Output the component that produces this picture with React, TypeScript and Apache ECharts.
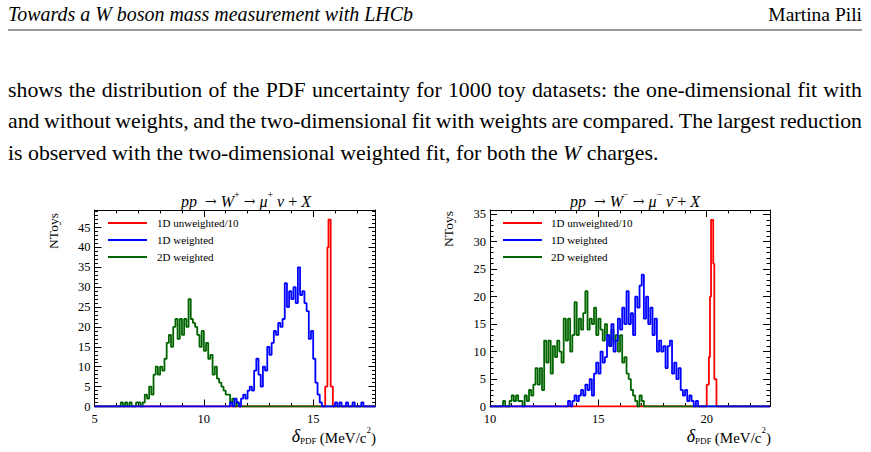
import React, { useEffect, useRef } from 'react';
import * as echarts from 'echarts';

// ---------- texts ----------
const headerLeft = 'Towards a W boson mass measurement with LHCb';
const headerRight = 'Martina Pili';
const paragraphLines = [
  'shows the distribution of the PDF uncertainty for 1000 toy datasets: the one-dimensional fit with',
  'and without weights, and the two-dimensional fit with weights are compared. The largest reduction',
  'is observed with the two-dimensional weighted fit, for both the W charges.',
];
const legendLabels = ['1D unweighted/10', '1D weighted', '2D weighted'];
const yAxisTitle = 'NToys';

// ---------- left panel (W+) ----------
const leftXRange = [5, 17.85];
const leftYMax = 49.4;
const leftRedStart = 15.55;
const leftRedWidth = 0.05;
const leftRed = [5, 5, 40, 47, 47, 5, 5];
const leftBlueStart = 11.0;
const leftBlueWidth = 0.1;
const leftBlue = [
  0, 0, 1, 0, 2, 1, 0, 2, 3, 2,
  4, 5, 4, 9, 12, 8, 5, 10, 9, 15,
  13, 16, 19, 18, 21, 20, 22, 31, 25, 29,
  27, 30, 26, 35, 28, 29, 26, 24, 17, 19,
  12, 6, 3, 1, 0, 0, 0, 0, 0, 0,
  1, 0, 1, 0, 0, 1, 0, 0, 1, 0,
  0, 0, 1, 0,
];
const leftGreenStart = 6.0;
const leftGreenWidth = 0.1;
const leftGreen = [
  0, 0, 1, 0, 1, 0, 1, 0, 0, 1,
  1, 0, 1, 3, 2, 5, 3, 8, 10, 8,
  10, 9, 12, 16, 18, 15, 20, 22, 17, 22,
  18, 22, 20, 27, 22, 21, 20, 18, 15, 19,
  14, 16, 12, 13, 8, 10, 7, 6, 5, 4,
  3, 3, 1, 2, 0, 1, 0, 0,
];

// ---------- right panel (W-) ----------
const rightXRange = [10, 22.92];
const rightYMax = 35.78;
const rightRedStart = 20.0;
const rightRedWidth = 0.05;
const rightRed = [4, 4, 9, 20, 34, 34, 26, 5, 5];
const rightBlueStart = 13.5;
const rightBlueWidth = 0.1;
const rightBlue = [
  0, 1, 0, 1, 2, 1, 2, 3, 2, 4,
  3, 5, 2, 6, 8, 6, 10, 8, 9, 13,
  11, 15, 10, 12, 16, 14, 18, 15, 21, 15,
  17, 13, 20, 18, 22, 24, 16, 20, 15, 18,
  13, 16, 10, 12, 10, 11, 7, 11, 12, 6,
  8, 5, 7, 3, 2, 3, 1, 2, 1, 0,
  1, 0,
];
const rightGreenStart = 10.5;
const rightGreenWidth = 0.1;
const rightGreen = [
  0, 1, 0, 0, 1, 2, 1, 2, 1, 1,
  0, 2, 1, 3, 2, 4, 7, 4, 7, 3,
  12, 8, 12, 6, 11, 9, 12, 10, 8, 16,
  12, 16, 10, 13, 19, 13, 16, 14, 17, 21,
  14, 16, 15, 18, 13, 16, 14, 12, 15, 13,
  11, 14, 12, 13, 10, 13, 8, 9, 6, 5,
  3, 2, 1, 0, 2, 1, 0,
];

const COLORS = { red: '#ff0000', blue: '#0000ff', green: '#006400' };
const SERIF = '"Liberation Serif", "Times New Roman", serif';

function histPoints(start: number, width: number, counts: number[], lo: number, hi: number) {
  const pts: number[][] = [[lo, 0]];
  counts.forEach((c, i) => pts.push([+(start + i * width).toFixed(4), c]));
  pts.push([+(start + counts.length * width).toFixed(4), 0]);
  pts.push([hi, 0]);
  return pts;
}

function measurer() {
  const ctx = document.createElement('canvas').getContext('2d') as CanvasRenderingContext2D;
  return (text: string, font: string) => {
    ctx.font = font;
    return ctx.measureText(text).width;
  };
}

function buildParagraph(): any[] {
  const size = 21.8;
  const left = 8;
  const right = 862;
  const ys = [90, 121, 153];
  const measure = measurer();
  const els: any[] = [];
  paragraphLines.forEach((line, li) => {
    const words = line.split(' ');
    const fonts = words.map((w) =>
      li === 2 && w === 'W' ? `italic ${size}px ${SERIF}` : `${size}px ${SERIF}`
    );
    const widths = words.map((w, i) => measure(w, fonts[i]));
    const space = measure(' ', `${size}px ${SERIF}`);
    const total = widths.reduce((a, b) => a + b, 0);
    const justify = li < paragraphLines.length - 1;
    const gap = justify ? (right - left - total) / (words.length - 1) : space;
    let x = left;
    words.forEach((w, i) => {
      els.push({
        type: 'text',
        x,
        y: ys[li],
        silent: true,
        style: { text: w, font: fonts[i], fill: '#000', verticalAlign: 'middle' },
      });
      x += widths[i] + gap;
    });
  });
  return els;
}

function axisPair(gridIndex: number, range: number[], isX: boolean) {
  const fmt = (v: number) => (Math.abs(v % 5) < 1e-6 ? String(Math.round(v)) : '');
  const common = {
    gridIndex,
    type: 'value',
    min: range[0],
    max: range[1],
    interval: 5,
    splitLine: { show: false },
    axisLine: { show: true, onZero: false, lineStyle: { color: '#000', width: 1 } },
    axisTick: { show: true, inside: true, length: 7, lineStyle: { color: '#000', width: 1 } },
    minorTick: { show: true, splitNumber: 5, length: 3.5, lineStyle: { color: '#000', width: 1 } },
  };
  const main = {
    ...common,
    position: isX ? 'bottom' : 'left',
    axisLabel: {
      show: true,
      formatter: fmt,
      color: '#000',
      fontFamily: SERIF,
      fontSize: 12.5,
      margin: isX ? 6 : 4,
      showMaxLabel: false,
    },
  };
  const mirror = {
    ...common,
    position: isX ? 'top' : 'right',
    axisLabel: { show: false },
  };
  return [main, mirror];
}

function legendGraphics(x0: number, textX: number, ys: number[]) {
  const cols = [COLORS.red, COLORS.blue, COLORS.green];
  const els: any[] = [];
  legendLabels.forEach((label, i) => {
    els.push({
      type: 'line',
      silent: true,
      shape: { x1: x0, y1: ys[i], x2: x0 + 39, y2: ys[i] },
      style: { stroke: cols[i], lineWidth: 1.8 },
    });
    els.push({
      type: 'text',
      x: textX,
      y: ys[i],
      silent: true,
      style: { text: label, font: `11px ${SERIF}`, fill: '#000', verticalAlign: 'middle' },
    });
  });
  return els;
}

const titleRich = {
  n: { fontFamily: SERIF, fontSize: 16, lineHeight: 20, verticalAlign: 'bottom' },
  a: { fontFamily: '"DejaVu Serif", serif', fontSize: 14, lineHeight: 20, verticalAlign: 'bottom', padding: [0, 0, 1, 0] },
  i: { fontFamily: SERIF, fontSize: 16, fontStyle: 'italic', lineHeight: 20, verticalAlign: 'bottom' },
  sup: { fontFamily: SERIF, fontSize: 10, lineHeight: 20, verticalAlign: 'top' },
};

const xTitleRich = {
  d: { fontFamily: SERIF, fontSize: 18, fontStyle: 'italic', lineHeight: 20, verticalAlign: 'bottom' },
  sub: { fontFamily: SERIF, fontSize: 9, lineHeight: 20, verticalAlign: 'bottom' },
  n: { fontFamily: SERIF, fontSize: 15, lineHeight: 20, verticalAlign: 'bottom' },
  sup: { fontFamily: SERIF, fontSize: 9, lineHeight: 20, verticalAlign: 'top' },
};

function lineSeries(name: string, color: string, xi: number, yi: number, data: number[][]) {
  return {
    name,
    type: 'line',
    step: 'end',
    xAxisIndex: xi,
    yAxisIndex: yi,
    data,
    showSymbol: false,
    symbol: 'none',
    silent: true,
    lineStyle: { color, width: 1.8 },
    itemStyle: { color },
  };
}

export default function App() {
  const ref = useRef<HTMLDivElement>(null);
  useEffect(() => {
    if (!ref.current) return;
    const chart = echarts.init(ref.current, undefined, { renderer: 'svg' });
    const measure = measurer();

    const headerFont = `italic 20px ${SERIF}`;
    const headerScale = 405 / measure(headerLeft, headerFont);

    const [lx0, lx1] = axisPair(0, leftXRange, true);
    const [ly0, ly1] = axisPair(0, [0, leftYMax], false);
    const [rx0, rx1] = axisPair(1, rightXRange, true);
    const [ry0, ry1] = axisPair(1, [0, rightYMax], false);

    const xTitle = '{d|δ}{sub|PDF} {n|(MeV/c}{sup|2}{n|)}';

    const graphics: any[] = [
      {
        type: 'text',
        x: 8,
        y: 14,
        scaleX: headerScale,
        silent: true,
        style: { text: headerLeft, font: headerFont, fill: '#000', verticalAlign: 'middle' },
      },
      {
        type: 'text',
        x: 862,
        y: 14,
        silent: true,
        style: { text: headerRight, font: `19.5px ${SERIF}`, fill: '#000', align: 'right', verticalAlign: 'middle' },
      },
      {
        type: 'line',
        silent: true,
        shape: { x1: 8, y1: 30, x2: 862, y2: 30 },
        style: { stroke: '#333', lineWidth: 1 },
      },
      ...buildParagraph(),
      {
        type: 'text',
        x: 246,
        y: 199,
        silent: true,
        style: {
          text: '{i|pp}  {a|→} {i|W}{sup|+} {a|→} {i|μ}{sup|+} {i|ν} {n|+} {i|X}',
          font: `16px ${SERIF}`,
          rich: titleRich,
          align: 'center',
          verticalAlign: 'middle',
        },
      },
      {
        type: 'text',
        x: 635,
        y: 199,
        silent: true,
        style: {
          text: '{i|pp}  {a|→} {i|W}{sup|−} {a|→} {i|μ}{sup|−} {i|ν\u0304} {n|+} {i|X}',
          font: `16px ${SERIF}`,
          rich: titleRich,
          align: 'center',
          verticalAlign: 'middle',
        },
      },
      {
        type: 'text',
        x: 53,
        y: 231,
        rotation: Math.PI / 2,
        silent: true,
        style: { text: yAxisTitle, font: `13.5px ${SERIF}`, fill: '#000', align: 'center', verticalAlign: 'middle' },
      },
      {
        type: 'text',
        x: 448,
        y: 229,
        rotation: Math.PI / 2,
        silent: true,
        style: { text: yAxisTitle, font: `13.5px ${SERIF}`, fill: '#000', align: 'center', verticalAlign: 'middle' },
      },
      {
        type: 'text',
        x: 376,
        y: 435,
        silent: true,
        style: { text: xTitle, rich: xTitleRich, align: 'right', verticalAlign: 'middle' },
      },
      {
        type: 'text',
        x: 771,
        y: 435,
        silent: true,
        style: { text: xTitle, rich: xTitleRich, align: 'right', verticalAlign: 'middle' },
      },
      ...legendGraphics(108, 157, [223, 240, 257]),
      ...legendGraphics(503, 551, [223, 240, 257]),
    ];

    chart.setOption({
      animation: false,
      backgroundColor: '#fff',
      grid: [
        { left: 94.5, top: 210, width: 281, height: 196.5 },
        { left: 490, top: 210, width: 280, height: 196.5 },
      ],
      xAxis: [lx0, lx1, rx0, rx1],
      yAxis: [ly0, ly1, ry0, ry1],
      series: [
        lineSeries(legendLabels[0], COLORS.red, 0, 0, histPoints(leftRedStart, leftRedWidth, leftRed, leftXRange[0], leftXRange[1])),
        lineSeries(legendLabels[2], COLORS.green, 0, 0, histPoints(leftGreenStart, leftGreenWidth, leftGreen, leftXRange[0], leftXRange[1])),
        lineSeries(legendLabels[1], COLORS.blue, 0, 0, histPoints(leftBlueStart, leftBlueWidth, leftBlue, leftXRange[0], leftXRange[1])),
        lineSeries(legendLabels[0], COLORS.red, 2, 2, histPoints(rightRedStart, rightRedWidth, rightRed, rightXRange[0], rightXRange[1])),
        lineSeries(legendLabels[2], COLORS.green, 2, 2, histPoints(rightGreenStart, rightGreenWidth, rightGreen, rightXRange[0], rightXRange[1])),
        lineSeries(legendLabels[1], COLORS.blue, 2, 2, histPoints(rightBlueStart, rightBlueWidth, rightBlue, rightXRange[0], rightXRange[1])),
      ],
      graphic: graphics,
    });
    return () => chart.dispose();
  }, []);
  return (
    <div
      ref={ref}
      style={{ position: 'fixed', left: 0, top: 0, width: 871, height: 452, background: '#fff' }}
    />
  );
}
